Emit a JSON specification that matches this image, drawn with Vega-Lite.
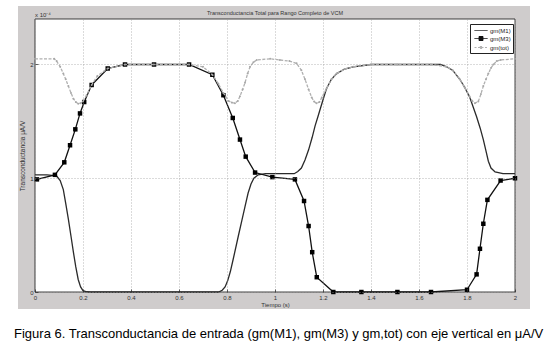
{
"$schema":"https://vega.github.io/schema/vega-lite/v6.json",
"width":480,"height":273,
"autosize":{"type":"none"},
"padding":{"left":35,"top":19,"right":32,"bottom":54},
"background":"#ffffff",
"config":{"view":{"stroke":null},"font":"Liberation Sans"},
"title":{"text":"Figura 6. Transconductancia de entrada (gm(M1), gm(M3) y gm,tot) con eje vertical en μA/V","orient":"bottom","anchor":"start","frame":"bounds","fontSize":13,"fontWeight":"normal","color":"#000000","offset":19,"dx":-4},
"data":{"values":[
{"t":0,"v":1.03,"serie":"gm(M1)"},{"t":0.05,"v":1.03,"serie":"gm(M1)"},{"t":0.09,"v":1.02,"serie":"gm(M1)"},{"t":0.105,"v":0.98,"serie":"gm(M1)"},{"t":0.118,"v":0.9,"serie":"gm(M1)"},{"t":0.128,"v":0.78,"serie":"gm(M1)"},{"t":0.139,"v":0.64,"serie":"gm(M1)"},{"t":0.15,"v":0.49,"serie":"gm(M1)"},{"t":0.16,"v":0.35,"serie":"gm(M1)"},{"t":0.17,"v":0.22,"serie":"gm(M1)"},{"t":0.18,"v":0.11,"serie":"gm(M1)"},{"t":0.19,"v":0.045,"serie":"gm(M1)"},{"t":0.2,"v":0.012,"serie":"gm(M1)"},{"t":0.215,"v":0.002,"serie":"gm(M1)"},{"t":0.23,"v":0,"serie":"gm(M1)"},{"t":0.5,"v":0,"serie":"gm(M1)"},{"t":0.765,"v":0,"serie":"gm(M1)"},{"t":0.78,"v":0.015,"serie":"gm(M1)"},{"t":0.792,"v":0.045,"serie":"gm(M1)"},{"t":0.803,"v":0.1,"serie":"gm(M1)"},{"t":0.814,"v":0.18,"serie":"gm(M1)"},{"t":0.826,"v":0.29,"serie":"gm(M1)"},{"t":0.847,"v":0.49,"serie":"gm(M1)"},{"t":0.862,"v":0.63,"serie":"gm(M1)"},{"t":0.875,"v":0.75,"serie":"gm(M1)"},{"t":0.888,"v":0.87,"serie":"gm(M1)"},{"t":0.9,"v":0.95,"serie":"gm(M1)"},{"t":0.912,"v":1.0,"serie":"gm(M1)"},{"t":0.93,"v":1.03,"serie":"gm(M1)"},{"t":0.96,"v":1.04,"serie":"gm(M1)"},{"t":1.0,"v":1.04,"serie":"gm(M1)"},{"t":1.08,"v":1.04,"serie":"gm(M1)"},{"t":1.095,"v":1.06,"serie":"gm(M1)"},{"t":1.11,"v":1.09,"serie":"gm(M1)"},{"t":1.125,"v":1.16,"serie":"gm(M1)"},{"t":1.14,"v":1.25,"serie":"gm(M1)"},{"t":1.155,"v":1.36,"serie":"gm(M1)"},{"t":1.167,"v":1.46,"serie":"gm(M1)"},{"t":1.18,"v":1.55,"serie":"gm(M1)"},{"t":1.19,"v":1.62,"serie":"gm(M1)"},{"t":1.203,"v":1.71,"serie":"gm(M1)"},{"t":1.215,"v":1.79,"serie":"gm(M1)"},{"t":1.235,"v":1.87,"serie":"gm(M1)"},{"t":1.257,"v":1.92,"serie":"gm(M1)"},{"t":1.29,"v":1.96,"serie":"gm(M1)"},{"t":1.326,"v":1.98,"serie":"gm(M1)"},{"t":1.4,"v":2.0,"serie":"gm(M1)"},{"t":1.69,"v":2.0,"serie":"gm(M1)"},{"t":1.715,"v":1.98,"serie":"gm(M1)"},{"t":1.74,"v":1.95,"serie":"gm(M1)"},{"t":1.77,"v":1.87,"serie":"gm(M1)"},{"t":1.79,"v":1.8,"serie":"gm(M1)"},{"t":1.81,"v":1.72,"serie":"gm(M1)"},{"t":1.825,"v":1.63,"serie":"gm(M1)"},{"t":1.84,"v":1.54,"serie":"gm(M1)"},{"t":1.855,"v":1.44,"serie":"gm(M1)"},{"t":1.868,"v":1.34,"serie":"gm(M1)"},{"t":1.879,"v":1.24,"serie":"gm(M1)"},{"t":1.889,"v":1.15,"serie":"gm(M1)"},{"t":1.9,"v":1.09,"serie":"gm(M1)"},{"t":1.917,"v":1.055,"serie":"gm(M1)"},{"t":1.95,"v":1.04,"serie":"gm(M1)"},{"t":2.0,"v":1.04,"serie":"gm(M1)"},
{"t":0.008,"v":0.99,"serie":"gm(M3)"},{"t":0.083,"v":1.03,"serie":"gm(M3)"},{"t":0.122,"v":1.14,"serie":"gm(M3)"},{"t":0.146,"v":1.29,"serie":"gm(M3)"},{"t":0.168,"v":1.43,"serie":"gm(M3)"},{"t":0.1875,"v":1.57,"serie":"gm(M3)"},{"t":0.205,"v":1.67,"serie":"gm(M3)"},{"t":0.236,"v":1.82,"serie":"gm(M3)"},{"t":0.303,"v":1.965,"serie":"gm(M3)"},{"t":0.375,"v":2.0,"serie":"gm(M3)"},{"t":0.496,"v":2.0,"serie":"gm(M3)"},{"t":0.642,"v":2.0,"serie":"gm(M3)"},{"t":0.739,"v":1.91,"serie":"gm(M3)"},{"t":0.785,"v":1.73,"serie":"gm(M3)"},{"t":0.824,"v":1.53,"serie":"gm(M3)"},{"t":0.854,"v":1.34,"serie":"gm(M3)"},{"t":0.878,"v":1.19,"serie":"gm(M3)"},{"t":0.917,"v":1.05,"serie":"gm(M3)"},{"t":0.989,"v":1.01,"serie":"gm(M3)"},{"t":1.083,"v":0.99,"serie":"gm(M3)"},{"t":1.121,"v":0.8,"serie":"gm(M3)"},{"t":1.14,"v":0.58,"serie":"gm(M3)"},{"t":1.155,"v":0.35,"serie":"gm(M3)"},{"t":1.174,"v":0.13,"serie":"gm(M3)"},{"t":1.243,"v":0,"serie":"gm(M3)"},{"t":1.36,"v":0,"serie":"gm(M3)"},{"t":1.51,"v":0,"serie":"gm(M3)"},{"t":1.65,"v":0,"serie":"gm(M3)"},{"t":1.8,"v":0.02,"serie":"gm(M3)"},{"t":1.84,"v":0.155,"serie":"gm(M3)"},{"t":1.854,"v":0.38,"serie":"gm(M3)"},{"t":1.868,"v":0.6,"serie":"gm(M3)"},{"t":1.885,"v":0.81,"serie":"gm(M3)"},{"t":1.94,"v":0.98,"serie":"gm(M3)"},{"t":2.0,"v":1.0,"serie":"gm(M3)"},
{"t":0,"v":2.05,"serie":"gm(tot)"},{"t":0.08,"v":2.05,"serie":"gm(tot)"},{"t":0.09,"v":2.03,"serie":"gm(tot)"},{"t":0.105,"v":1.98,"serie":"gm(tot)"},{"t":0.118,"v":1.92,"serie":"gm(tot)"},{"t":0.128,"v":1.87,"serie":"gm(tot)"},{"t":0.139,"v":1.81,"serie":"gm(tot)"},{"t":0.15,"v":1.75,"serie":"gm(tot)"},{"t":0.16,"v":1.7,"serie":"gm(tot)"},{"t":0.17,"v":1.67,"serie":"gm(tot)"},{"t":0.18,"v":1.655,"serie":"gm(tot)"},{"t":0.19,"v":1.66,"serie":"gm(tot)"},{"t":0.2,"v":1.675,"serie":"gm(tot)"},{"t":0.215,"v":1.73,"serie":"gm(tot)"},{"t":0.236,"v":1.82,"serie":"gm(tot)"},{"t":0.26,"v":1.9,"serie":"gm(tot)"},{"t":0.303,"v":1.965,"serie":"gm(tot)"},{"t":0.375,"v":2.0,"serie":"gm(tot)"},{"t":0.496,"v":2.0,"serie":"gm(tot)"},{"t":0.642,"v":2.0,"serie":"gm(tot)"},{"t":0.7,"v":1.98,"serie":"gm(tot)"},{"t":0.739,"v":1.91,"serie":"gm(tot)"},{"t":0.764,"v":1.83,"serie":"gm(tot)"},{"t":0.785,"v":1.75,"serie":"gm(tot)"},{"t":0.806,"v":1.68,"serie":"gm(tot)"},{"t":0.82,"v":1.665,"serie":"gm(tot)"},{"t":0.833,"v":1.66,"serie":"gm(tot)"},{"t":0.845,"v":1.68,"serie":"gm(tot)"},{"t":0.854,"v":1.72,"serie":"gm(tot)"},{"t":0.865,"v":1.78,"serie":"gm(tot)"},{"t":0.875,"v":1.84,"serie":"gm(tot)"},{"t":0.886,"v":1.92,"serie":"gm(tot)"},{"t":0.896,"v":1.98,"serie":"gm(tot)"},{"t":0.91,"v":2.02,"serie":"gm(tot)"},{"t":0.924,"v":2.04,"serie":"gm(tot)"},{"t":0.98,"v":2.05,"serie":"gm(tot)"},{"t":1.02,"v":2.04,"serie":"gm(tot)"},{"t":1.06,"v":2.03,"serie":"gm(tot)"},{"t":1.09,"v":2.01,"serie":"gm(tot)"},{"t":1.11,"v":1.95,"serie":"gm(tot)"},{"t":1.125,"v":1.87,"serie":"gm(tot)"},{"t":1.14,"v":1.78,"serie":"gm(tot)"},{"t":1.153,"v":1.71,"serie":"gm(tot)"},{"t":1.163,"v":1.675,"serie":"gm(tot)"},{"t":1.173,"v":1.66,"serie":"gm(tot)"},{"t":1.185,"v":1.67,"serie":"gm(tot)"},{"t":1.195,"v":1.71,"serie":"gm(tot)"},{"t":1.215,"v":1.79,"serie":"gm(tot)"},{"t":1.235,"v":1.87,"serie":"gm(tot)"},{"t":1.257,"v":1.92,"serie":"gm(tot)"},{"t":1.29,"v":1.96,"serie":"gm(tot)"},{"t":1.326,"v":1.98,"serie":"gm(tot)"},{"t":1.4,"v":2.0,"serie":"gm(tot)"},{"t":1.51,"v":2.0,"serie":"gm(tot)"},{"t":1.65,"v":2.0,"serie":"gm(tot)"},{"t":1.715,"v":1.98,"serie":"gm(tot)"},{"t":1.74,"v":1.95,"serie":"gm(tot)"},{"t":1.77,"v":1.87,"serie":"gm(tot)"},{"t":1.79,"v":1.8,"serie":"gm(tot)"},{"t":1.81,"v":1.72,"serie":"gm(tot)"},{"t":1.822,"v":1.68,"serie":"gm(tot)"},{"t":1.833,"v":1.66,"serie":"gm(tot)"},{"t":1.847,"v":1.675,"serie":"gm(tot)"},{"t":1.858,"v":1.74,"serie":"gm(tot)"},{"t":1.868,"v":1.81,"serie":"gm(tot)"},{"t":1.879,"v":1.87,"serie":"gm(tot)"},{"t":1.889,"v":1.92,"serie":"gm(tot)"},{"t":1.9,"v":1.97,"serie":"gm(tot)"},{"t":1.91,"v":2.0,"serie":"gm(tot)"},{"t":1.924,"v":2.03,"serie":"gm(tot)"},{"t":1.94,"v":2.04,"serie":"gm(tot)"},{"t":2.0,"v":2.05,"serie":"gm(tot)"}
]},
"layer":[
{"data":{"values":[{"k":1}]},"mark":{"type":"rect","fill":"#cfcccc"},
 "encoding":{"x":{"datum":-0.0708,"type":"quantitative"},"x2":{"datum":2.0625},"y":{"datum":-0.149,"type":"quantitative"},"y2":{"datum":2.514}}},
{"data":{"values":[{"k":1}]},"mark":{"type":"rect","fill":"#ffffff","stroke":"#111111","strokeWidth":0.8},
 "encoding":{"x":{"datum":0,"type":"quantitative"},"x2":{"datum":2},"y":{"datum":0,"type":"quantitative"},"y2":{"datum":2.4}}},
{"transform":[{"filter":"datum.serie !== 'gm(tot)'"}],"mark":{"type":"line","strokeWidth":1.3},
 "encoding":{
 "x":{"field":"t","type":"quantitative","scale":{"domain":[0,2],"nice":false,"zero":false},
 "axis":{"title":"Tiempo (s)","values":[0,0.2,0.4,0.6,0.8,1,1.2,1.4,1.6,1.8,2],"format":"~g","grid":true,"gridDash":[1,2],"gridColor":"#9a9a9a","gridWidth":0.7,"domain":false,"tickSize":-3,"tickColor":"#222222","tickWidth":0.7,"labelFontSize":6,"labelColor":"#333333","labelPadding":5,"labelFlush":false,"titleFontSize":6,"titleFontWeight":"normal","titleColor":"#333333","titlePadding":1,"zindex":1}},
 "y":{"field":"v","type":"quantitative","scale":{"domain":[0,2.4],"nice":false,"zero":false},
 "axis":{"title":"Transconductancia μA/V","values":[0,1,2],"format":"~g","grid":true,"gridDash":[1,2],"gridColor":"#9a9a9a","gridWidth":0.7,"domain":false,"tickSize":-3,"tickColor":"#222222","tickWidth":0.7,"labelFontSize":6,"labelColor":"#333333","labelPadding":5,"titleFontSize":6.5,"titleFontWeight":"normal","titleColor":"#333333","titlePadding":4,"zindex":1}},
 "color":{"field":"serie","type":"nominal","scale":{"domain":["gm(M1)","gm(M3)","gm(tot)"],"range":["#2a2a2a","#111111","#b0b0b0"]},
  "legend":{"title":null,"orient":"none","legendX":435,"legendY":5,"fillColor":"#ffffff","strokeColor":"#222222","padding":2,"labelFontSize":6,"labelColor":"#222222","labelOffset":9,"rowPadding":0,"symbolSize":64,"symbolStrokeWidth":1,
   "encode":{"symbols":{"update":{"shape":{"signal":"datum.value === 'gm(M3)' ? 'M-0.5,0H2.75M0.625,-0.5H1.625V0.5H0.625Z' : datum.value === 'gm(tot)' ? 'M-0.5,0H2.75M0.9,-0.25H1.35V0.25H0.9Z' : 'M-0.5,0H2.75'"},"fill":{"scale":"color","field":"value"},"stroke":{"scale":"color","field":"value"},"strokeDash":{"signal":"datum.value === 'gm(tot)' ? [2,1.5] : [1,0]"}}}}}}}},
{"transform":[{"filter":"datum.serie === 'gm(M3)'"}],"mark":{"type":"square","filled":true,"size":20,"color":"#000000","opacity":1},
 "encoding":{"x":{"field":"t","type":"quantitative"},"y":{"field":"v","type":"quantitative"}}},
{"transform":[{"filter":"datum.serie === 'gm(tot)'"}],"mark":{"type":"line","strokeWidth":1.3,"strokeDash":[3,1.5]},
 "encoding":{"x":{"field":"t","type":"quantitative"},"y":{"field":"v","type":"quantitative"},"color":{"field":"serie","type":"nominal"}}},
{"transform":[{"filter":"datum.serie === 'gm(tot)'"}],"mark":{"type":"circle","size":4,"color":"#a8a8a8","opacity":1},
 "encoding":{"x":{"field":"t","type":"quantitative"},"y":{"field":"v","type":"quantitative"}}},
{"data":{"values":[{"k":1}]},"mark":{"type":"text","text":"x 10⁻⁴","align":"left","baseline":"bottom","dy":-1,"fontSize":6,"color":"#333333"},
 "encoding":{"x":{"datum":0,"type":"quantitative"},"y":{"datum":2.4,"type":"quantitative"}}},
{"data":{"values":[{"k":1}]},"mark":{"type":"text","text":"Transconductancia Total para Rango Completo de VCM","align":"center","baseline":"bottom","dy":-3,"fontSize":5.5,"color":"#333333"},
 "encoding":{"x":{"datum":1,"type":"quantitative"},"y":{"datum":2.4,"type":"quantitative"}}}
]
}
